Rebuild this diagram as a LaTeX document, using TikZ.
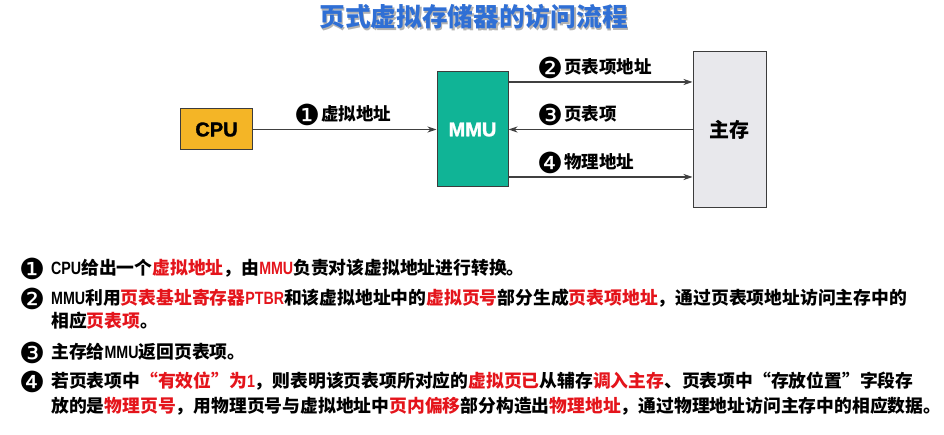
\documentclass[tikz,border=0pt]{standalone}
\usepackage{fontspec}
\usetikzlibrary{arrows.meta}
\setmainfont{Noto Sans CJK SC}
\newfontfamily\dingf{DejaVu Sans}
\newfontfamily\latf{Liberation Sans}[FakeStretch=0.8]
\newfontfamily\boxf{Liberation Sans}[BoldFeatures={FakeBold=1.5}]
\newcommand\latn[1]{{\latf #1}}
\definecolor{titleblue}{HTML}{2F6FD5}
\definecolor{cpuc}{HTML}{F4B526}
\definecolor{mmuc}{HTML}{10B496}
\definecolor{memc}{HTML}{E8E8EC}
\definecolor{bord}{HTML}{3C3C3C}
\definecolor{hl}{HTML}{E4141B}
\newcommand\hr[1]{\textcolor{hl}{#1}}
\newcommand\titletext{页式虚拟存储器的访问流程}
\tikzset{
  box/.style={draw=bord, line width=1pt, inner sep=0pt, font=\bfseries\fontsize{20}{22}\selectfont},
  arr/.style={draw=black!75, line width=1.1pt, -{Stealth[length=9pt,width=6pt]}},
  lab/.style={font=\bfseries\fontsize{17.5}{20}\selectfont, inner sep=0pt, anchor=west},
  txt/.style={font=\bfseries\fontsize{17.8}{22}\selectfont, inner sep=0pt, anchor=west, text height=14pt, text depth=1.5pt},
  bul/.style={font=\dingf\fontsize{29}{30}\selectfont, inner sep=0pt},
}
\begin{document}
\begin{tikzpicture}[x=1pt,y=-1pt]
\useasboundingbox (0,0) rectangle (944,435);
% title
\node[font=\bfseries\fontsize{25.7}{28}\selectfont, inner sep=0pt] (title) at (473.5,17.5)
  {\rlap{\hspace{1.6pt}\raisebox{-1.6pt}{\textcolor{black!30}{\titletext}}}\textcolor{titleblue}{\titletext}};
% boxes
\node[box, fill=cpuc, minimum width=72pt, minimum height=41pt] (cpu) at (216.5,129.5) {\boxf\bfseries CPU};
\node[box, fill=mmuc, text=white, minimum width=71pt, minimum height=115pt] (mmu) at (472.5,129.5) {\boxf\bfseries MMU};
\node[box, fill=memc, minimum width=73pt, minimum height=156pt] (mem) at (729.5,129.5) {主存};
% arrows
\draw[arr] (cpu.east) -- (mmu.west);
\draw[arr] ([yshift=47.5pt]mmu.east) -- ([yshift=47.5pt]mem.west);
\draw[arr] (mem.west) -- (mmu.east);
\draw[arr] ([yshift=-47.5pt]mmu.east) -- ([yshift=-47.5pt]mem.west);
% arrow labels
\node[bul] (b1) at (307,115) {❶};
\node[lab] (l1) at (321,114) {虚拟地址};
\node[bul] (b2) at (550,68) {❷};
\node[lab] (l2) at (564,67) {页表项地址};
\node[bul] (b3) at (550,115) {❸};
\node[lab] (l3) at (564,114) {页表项};
\node[bul] (b4) at (550,163) {❹};
\node[lab] (l4) at (564,162) {物理地址};
% explanation
\node[bul] (t1b) at (32,269) {❶};
\node[txt] (t1) at (51,268) {\latn{CPU}给出一个\hr{虚拟地址}，由\hr{\latn{MMU}}负责对该虚拟地址进行转换。};
\node[bul] (t2b) at (32,299) {❷};
\node[txt] (t2) at (51,298) {\latn{MMU}利用\hr{页表基址寄存器\latn{PTBR}}和该虚拟地址中的\hr{虚拟页号}部分生成\hr{页表项地址}，通过页表项地址访问主存中的};
\node[txt] (t2c) at (51,321) {相应\hr{页表项}。};
\node[bul] (t3b) at (32,353) {❸};
\node[txt] (t3) at (51,352) {主存给\latn{MMU}返回页表项。};
\node[bul] (t4b) at (32,382) {❹};
\node[txt] (t4) at (51,381) {若页表项中\hr{“有效位”为\latn{1}}，则表明该页表项所对应的\hr{虚拟页已}从辅存\hr{调入主存}、页表项中“存放位置”字段存};
\node[txt] (t4c) at (51,406) {放的是\hr{物理页号}，用物理页号与虚拟地址中\hr{页内偏移}部分构造出\hr{物理地址}，通过物理地址访问主存中的相应数据。};
\end{tikzpicture}
\end{document}
